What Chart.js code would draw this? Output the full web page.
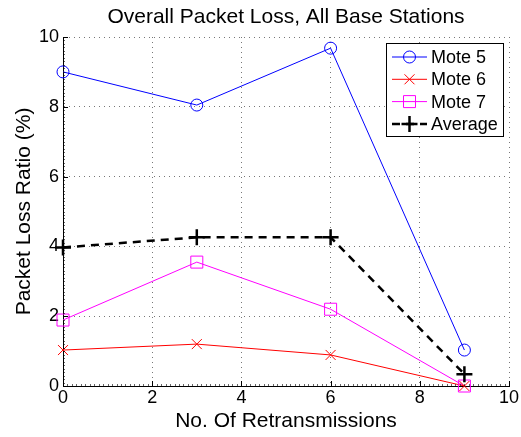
<!DOCTYPE html>
<html>
<head>
<meta charset="utf-8">
<script src="https://cdn.jsdelivr.net/npm/chart.js@4"></script>
<style>
  html, body { margin: 0; padding: 0; background: #fff; }
  #wrap { width: 521px; height: 437px; }
</style>
</head>
<body>
<div id="wrap"><canvas id="myChart" width="521" height="437"></canvas></div>
<script>
// retransmission counts on the x axis
const retrans = [0, 3, 6, 9];
// packet loss ratio (%) per mote
const mote5 = [9.0, 8.05, 9.68, 1.03];
const mote6 = [1.03, 1.2, 0.89, 0.0];
const mote7 = [1.89, 3.55, 2.2, 0.0];
const average = [3.97, 4.26, 4.26, 0.34];
const tickVals = [0, 2, 4, 6, 8, 10];

const FONT = 'Liberation Sans, Arial, Helvetica, sans-serif';

const pts = (ys) => retrans.map((x, i) => ({ x: x, y: ys[i] }));

// draws one marker the way matlab does (also used by the legend)
const drawMarker = (ctx, style, x, y, color) => {
  ctx.save();
  ctx.strokeStyle = color;
  ctx.beginPath();
  if (style === 'circle') {
    ctx.lineWidth = 1;
    ctx.arc(x, y, 6, 0, Math.PI * 2);
  } else if (style === 'crossRot') {
    ctx.lineWidth = 1;
    ctx.moveTo(x - 5, y - 5); ctx.lineTo(x + 5, y + 5);
    ctx.moveTo(x - 5, y + 5); ctx.lineTo(x + 5, y - 5);
  } else if (style === 'rect') {
    ctx.lineWidth = 1;
    ctx.rect(x - 6, y - 6, 12, 12);
  } else if (style === 'cross') {
    ctx.lineWidth = 2.5;
    ctx.moveTo(x - 8, y); ctx.lineTo(x + 8, y);
    ctx.moveTo(x, y - 8); ctx.lineTo(x, y + 8);
  }
  ctx.stroke();
  ctx.restore();
};

const matlabLook = {
  id: 'matlabLook',
  afterDatasetsDraw(chart) {
    const ctx = chart.ctx;
    const a = chart.chartArea;
    const xs = chart.scales.x, ys = chart.scales.y;

    // inward ticks, major and minor
    ctx.save();
    ctx.strokeStyle = '#000';
    ctx.lineWidth = 1;
    for (let i = 0; i <= 100; i++) {
      const v = i / 10;
      const len = (i % 20 === 0) ? 5 : 2;
      const px = Math.round(xs.getPixelForValue(v)) + 0.5;
      const py = Math.round(ys.getPixelForValue(v)) + 0.5;
      ctx.globalAlpha = (i % 20 === 0) ? 1 : 0.6;
      ctx.beginPath();
      ctx.moveTo(px, a.bottom); ctx.lineTo(px, a.bottom - len);
      ctx.moveTo(a.left, py); ctx.lineTo(a.left + len, py);
      ctx.stroke();
    }
    ctx.restore();

    // legend box
    const sets = chart.data.datasets;
    const bx = 386.5, by = 43.5, bw = 117, bh = 93;
    ctx.save();
    ctx.fillStyle = '#fff';
    ctx.fillRect(bx, by, bw, bh);
    ctx.strokeStyle = '#000';
    ctx.lineWidth = 1;
    ctx.strokeRect(bx, by, bw, bh);
    ctx.font = '18px ' + FONT;
    ctx.textBaseline = 'middle';
    ctx.fillStyle = '#000';
    sets.forEach((ds, i) => {
      const cy = 57 + i * 22.3;
      ctx.save();
      ctx.strokeStyle = ds.borderColor;
      ctx.lineWidth = ds.borderWidth;
      ctx.setLineDash(ds.borderDash || []);
      ctx.beginPath();
      ctx.moveTo(392, cy); ctx.lineTo(427, cy);
      ctx.stroke();
      ctx.restore();
      drawMarker(ctx, ds.mark, 409.5, cy, ds.borderColor);
      ctx.fillText(ds.label, 431, cy + 1);
    });
    ctx.restore();
  },
  afterDraw(chart) {
    const ctx = chart.ctx;
    const a = chart.chartArea;
    ctx.save();
    ctx.fillStyle = '#000';
    ctx.font = '21px ' + FONT;
    ctx.textAlign = 'center';
    ctx.textBaseline = 'alphabetic';
    const cx = (a.left + a.right) / 2;
    ctx.fillText('Overall Packet Loss, All Base Stations', cx, 23);
    ctx.fillText('No. Of Retransmissions', cx, 427);
    ctx.translate(30, (a.top + a.bottom) / 2);
    ctx.rotate(-Math.PI / 2);
    ctx.fillText('Packet Loss Ratio (%)', 0, 0);
    ctx.restore();
  }
};

const mk = (label, ys, color, mark, extra) => Object.assign({
  label: label,
  data: pts(ys),
  borderColor: color,
  backgroundColor: color,
  borderWidth: 1,
  mark: mark,
  pointRadius: 0,
  pointHoverRadius: 0,
  fill: false,
  tension: 0
}, extra || {});

const markerPlugin = {
  id: 'markerPlugin',
  afterDatasetsDraw(chart) {
    chart.data.datasets.forEach((ds, i) => {
      const meta = chart.getDatasetMeta(i);
      meta.data.forEach((p) => drawMarker(chart.ctx, ds.mark, p.x, p.y, ds.borderColor));
    });
  }
};

const myChart = new Chart('myChart', {
  type: 'line',
  data: {
    datasets: [
      mk('Mote 5', mote5, '#0000ff', 'circle'),
      mk('Mote 6', mote6, '#ff0000', 'crossRot'),
      mk('Mote 7', mote7, '#ff00ff', 'rect'),
      mk('Average', average, '#000000', 'cross', { borderWidth: 2.5, borderDash: [8, 6] })
    ]
  },
  options: {
    responsive: false,
    animation: false,
    events: [],
    layout: { padding: { left: 0, right: 12, top: 37, bottom: 0 } },
    plugins: {
      legend: { display: false },
      title: { display: false },
      tooltip: { enabled: false }
    },
    scales: {
      x: {
        type: 'linear',
        min: 0,
        max: 10,
        afterBuildTicks: (s) => { s.ticks = tickVals.map((v) => ({ value: v })); },
        afterFit: (s) => { s.height = 51; },
        ticks: { color: '#000', font: { family: FONT, size: 18 }, padding: 1, maxRotation: 0 },
        grid: { color: '#777', drawTicks: false, lineWidth: 1 },
        border: { display: true, color: '#000', width: 1, dash: [1, 4] }
      },
      y: {
        type: 'linear',
        min: 0,
        max: 10,
        afterBuildTicks: (s) => { s.ticks = tickVals.map((v) => ({ value: v })); },
        afterFit: (s) => { s.width = 63; },
        ticks: { color: '#000', font: { family: FONT, size: 18 }, padding: 4 },
        grid: { color: '#777', drawTicks: false, lineWidth: 1 },
        border: { display: true, color: '#000', width: 1, dash: [1, 4] }
      }
    }
  },
  plugins: [markerPlugin, matlabLook]
});
</script>
</body>
</html>
